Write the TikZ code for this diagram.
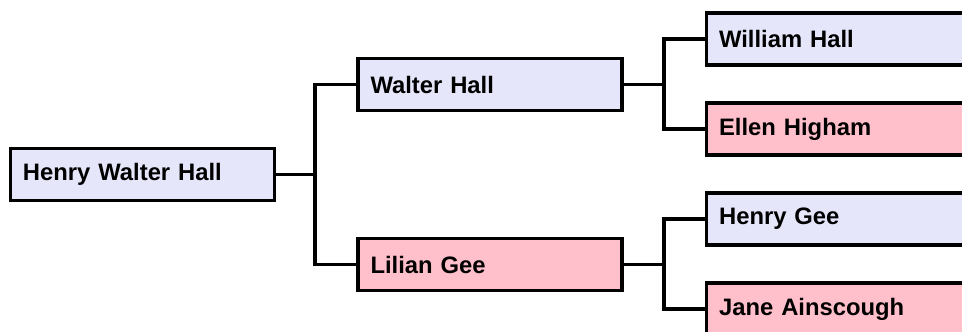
\documentclass[tikz,border=0pt]{standalone}
\usepackage{fontspec}
\setmainfont{Liberation Sans}
\definecolor{male}{HTML}{E6E6FA}
\definecolor{female}{HTML}{FFC0CB}
\begin{document}
\begin{tikzpicture}[x=1pt,y=-1pt,
  person/.style={draw=black,line width=3.3pt,rectangle,minimum height=52pt,
    inner xsep=12.5pt,inner ysep=0pt,text width=239pt,align=left,
    font=\fontsize{23.8}{28}\selectfont\bfseries},
  mperson/.style={person,fill=male},
  fperson/.style={person,fill=female},
  link/.style={line width=3.3pt,line cap=rect}]
\clip (0,0) rectangle (962,332);
\useasboundingbox (0,0) rectangle (962,332);
\node[mperson] (hwh) at (142.5,174.5) {Henry Walter Hall};
\node[mperson] (wh) at (490,84.5) {Walter Hall};
\node[fperson] (lg) at (490,264.5) {Lilian Gee};
\node[mperson] (wih) at (838.6,39) {William Hall};
\node[fperson] (eh) at (838.6,129) {Ellen Higham};
\node[mperson] (hg) at (838.6,219) {Henry Gee};
\node[fperson] (ja) at (838.6,309) {Jane Ainscough};
\coordinate (j1) at (315,174.5);
\coordinate (j2) at (664,84.5);
\coordinate (j3) at (664,264.5);
\draw[line width=3.3pt] (hwh.east) -- (j1);
\draw[line width=3.3pt] (wh.west) -| (j1) |- (lg.west);
\draw[line width=3.3pt] (wh.east) -- (j2);
\draw[line width=3.3pt] (wih.west) -| (j2) |- (eh.west);
\draw[line width=3.3pt] (lg.east) -- (j3);
\draw[line width=3.3pt] (hg.west) -| (j3) |- (ja.west);
\end{tikzpicture}
\end{document}
